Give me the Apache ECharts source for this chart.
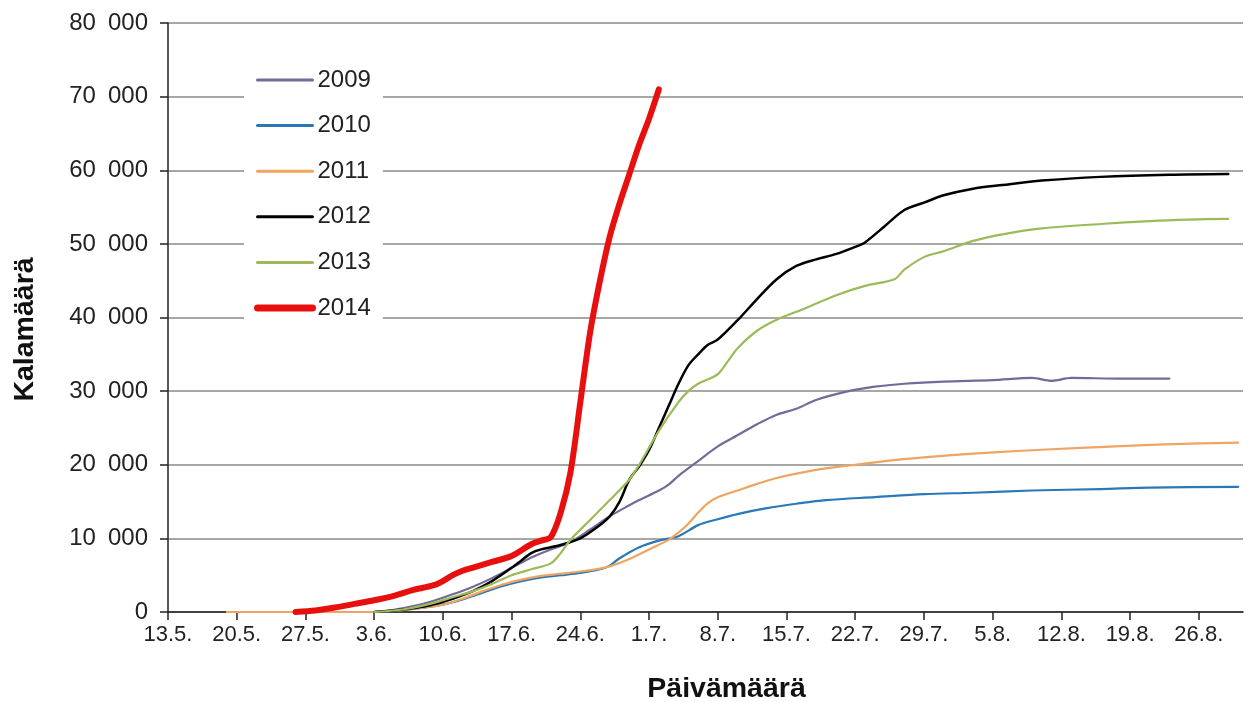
<!DOCTYPE html>
<html>
<head>
<meta charset="utf-8">
<script src="https://cdn.jsdelivr.net/npm/echarts@6/dist/echarts.min.js"></script>
<style>
html,body{margin:0;padding:0;background:#fff;}
#chart{width:1253px;height:702px;}
</style>
</head>
<body>
<div id="chart"></div>
<script>
// x = days since 13.5.
const tickLabels = ['13.5.','20.5.','27.5.','3.6.','10.6.','17.6.','24.6.','1.7.','8.7.','15.7.','22.7.','29.7.','5.8.','12.8.','19.8.','26.8.'];
const tickDays = [0,7,14,21,28,35,42,49,56,63,70,77,84,91,98,105];
const yTicks = [0,10000,20000,30000,40000,50000,60000,70000,80000];

const years = ['2009','2010','2011','2012','2013','2014'];

const d2009 = [[21,0],[23,300],[25,800],[27,1500],[29,2400],[31,3400],[33,4600],[35,6000],[37,7400],[39,8500],[41,9500],[43,11200],[45,13000],[47,14500],[48,15200],[50,16500],[51,17300],[52,18500],[54,20500],[56,22500],[58,24000],[60,25500],[62,26800],[64,27600],[66,28800],[69,29900],[72,30600],[75,31000],[79,31300],[84,31500],[88,31800],[90,31400],[92,31800],[97,31700],[102,31700]];
const d2010 = [[6,0],[21,0],[24,300],[26,600],[28,1000],[30,1700],[32,2600],[34,3500],[36,4200],[38,4700],[40,5000],[42,5300],[44,5800],[45,6300],[46,7300],[48,8800],[50,9700],[52,10300],[54,11800],[56,12600],[58,13300],[61,14100],[64,14700],[67,15200],[72,15600],[77,16000],[82,16200],[88,16500],[95,16700],[100,16900],[109,17000]];
const d2011 = [[6,0],[21,0],[24,300],[26,600],[28,1000],[30,1800],[32,2800],[34,3700],[36,4400],[38,4900],[40,5200],[42,5500],[44,5900],[45,6200],[47,7200],[49,8500],[51,9800],[52,10800],[53,12000],[54,13500],[55,14800],[56,15600],[58,16500],[60,17400],[62,18200],[64,18800],[67,19500],[70,20000],[73,20500],[77,21000],[82,21500],[87,21900],[93,22300],[100,22700],[105,22900],[109,23000]];
const d2012 = [[21,0],[23,200],[25,500],[27,1000],[29,1800],[31,2800],[33,4200],[35,6000],[36,7000],[37,8000],[38,8500],[40,9100],[42,10000],[44,11800],[45,13000],[46,15000],[47,18000],[48,19800],[49,22000],[50,25000],[51,28000],[52,31000],[53,33500],[54,35000],[55,36300],[56,37000],[58,39600],[60,42500],[62,45200],[64,47000],[66,47900],[68,48600],[70,49600],[71,50200],[73,52400],[75,54600],[77,55600],[79,56600],[82,57500],[85,58000],[89,58600],[95,59100],[102,59400],[108,59500]];
const d2013 = [[21,0],[23,200],[25,600],[27,1200],[29,2000],[31,2800],[33,3800],[35,5000],[37,5800],[39,6600],[40,8000],[41,9800],[43,12500],[45,15200],[47,18000],[48,20000],[50,24600],[52,28500],[53,30000],[54,31000],[55,31600],[56,32300],[57,34000],[58,35800],[60,38200],[62,39700],[65,41300],[68,43000],[71,44300],[74,45200],[75,46500],[77,48200],[79,49000],[82,50400],[85,51300],[89,52100],[95,52700],[100,53100],[104,53300],[108,53400]];
const d2014 = [[13,0],[15,200],[17,600],[19,1100],[21,1600],[23,2200],[25,3000],[27,3600],[28,4200],[29,5000],[30,5600],[31,6000],[33,6800],[35,7600],[37,9200],[38,9700],[39,10200],[40,13500],[41,19000],[42,28500],[43,38000],[44,45000],[45,51000],[46,55500],[47,59500],[48,63500],[49,67000],[50,71000]];

const seriesData = [d2009,d2010,d2011,d2012,d2013,d2014];
const colors = ['#75699a','#2a78b8','#f0a462','#000000','#9bbb59','#e8100f'];
const widths = [2.2,2.2,2.2,2.5,2.2,6];
const legendWidths = [3,3,3,3,3,7];

const font = '"Liberation Sans", Arial, sans-serif';

const chart = echarts.init(document.getElementById('chart'));
chart.setOption({
  animation: false,
  backgroundColor: '#ffffff',
  grid: {left: 168, right: 10, top: 23, bottom: 90, outerBoundsMode: 'none', containLabel: false},
  legend: {
    data: years.map(function (y, i) {
      return {name: y, lineStyle: {width: legendWidths[i], color: colors[i], cap: 'round'}};
    }),
    orient: 'vertical',
    left: 244,
    top: 55,
    padding: [13, 12, 10, 10],
    backgroundColor: '#ffffff',
    itemWidth: 55,
    itemHeight: 14,
    itemGap: 21.6,
    itemStyle: {opacity: 0, borderWidth: 0},
    textStyle: {fontFamily: font, fontSize: 24, color: '#222', lineHeight: 24}
  },
  xAxis: {
    type: 'value',
    min: 0,
    max: 109.5,
    interval: 7,
    name: 'Päivämäärä',
    nameLocation: 'middle',
    nameGap: 63,
    nameTextStyle: {fontFamily: font, fontSize: 28.5, fontWeight: 'bold', color: '#111', padding: [0,0,0,42]},
    axisLine: {lineStyle: {color: '#222', width: 1.5}},
    axisTick: {show: true, length: 8, lineStyle: {color: '#222', width: 1.5}, customValues: tickDays},
    axisLabel: {
      customValues: tickDays,
      margin: 12,
      fontFamily: font, fontSize: 22, color: '#222',
      formatter: function (v) { const i = tickDays.indexOf(Math.round(v)); return i >= 0 ? tickLabels[i] : ''; }
    },
    splitLine: {show: false}
  },
  yAxis: {
    type: 'value',
    min: 0,
    max: 80000,
    interval: 10000,
    name: 'Kalamäärä',
    nameLocation: 'middle',
    nameGap: 128,
    nameRotate: 90,
    nameTextStyle: {fontFamily: font, fontSize: 28.5, fontWeight: 'bold', color: '#111', padding: [0,24,0,0]},
    axisLine: {show: true, lineStyle: {color: '#222', width: 1.5}},
    axisTick: {show: true, length: 8, lineStyle: {color: '#222', width: 1.5}},
    axisLabel: {
      margin: 20,
      fontFamily: font, fontSize: 24, color: '#222',
      formatter: function (v) { return v === 0 ? '0' : String(v).replace(/\B(?=(\d{3})+(?!\d))/g, '\u2002'); }
    },
    splitLine: {show: true, lineStyle: {color: '#8a8a8a', width: 1.5}}
  },
  series: years.map(function (y, i) {
    return {
      name: y,
      type: 'line',
      data: seriesData[i],
      symbol: 'none',
      smooth: 0.3,
      color: colors[i],
      lineStyle: {color: colors[i], width: widths[i], cap: 'round', join: 'round'},
      z: i === 5 ? 5 : 2
    };
  })
});
</script>
</body>
</html>
